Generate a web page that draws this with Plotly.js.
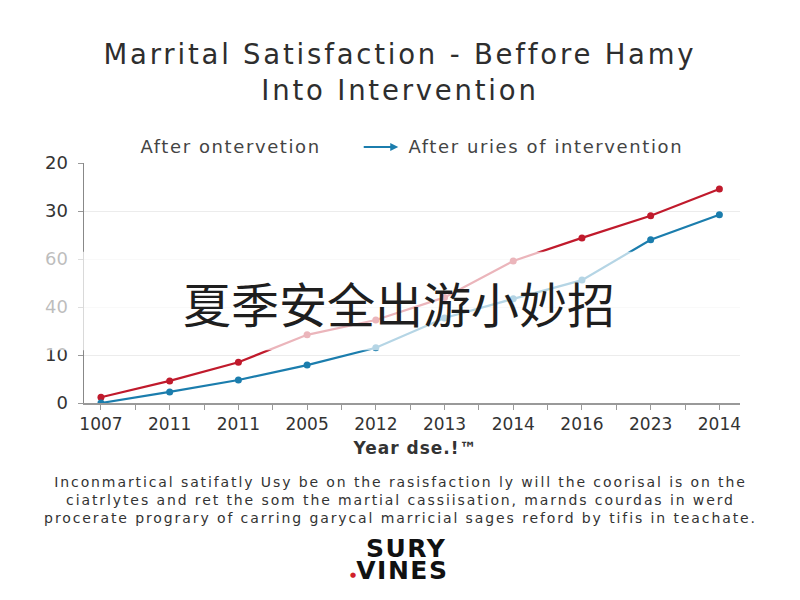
<!DOCTYPE html>
<html>
<head>
<meta charset="utf-8">
<script src="https://cdn.plot.ly/plotly-3.0.1.min.js"></script>
<style>
  html, body { margin: 0; padding: 0; background: #fff; }
  #grafico { width: 800px; height: 600px; }
  /* o texto da referencia e mais largo */
  #grafico .gtitle { letter-spacing: 2.8px; }
  #grafico .annotation[data-index="0"] text,
  #grafico .annotation[data-index="2"] text { letter-spacing: 1.6px; }
  #grafico .annotation[data-index="3"] text { letter-spacing: 1px; }
  #grafico .annotation[data-index="5"] text { letter-spacing: 1.9px; }
  #grafico .annotation[data-index="6"] text,
  #grafico .annotation[data-index="7"] text { letter-spacing: 1.5px; }
</style>
</head>
<body>
<div id="grafico"></div>
<script>
// dados do grafico
let anos = ['1007', '2011', '2011', '2005', '2012', '2013', '2014', '2016', '2023', '2014'];
let aposIntervencao = [1.2, 4.6, 8.5, 14.2, 17.3, 22, 29.6, 34.4, 39, 44.6]; // vermelho
let aposSeries = [0, 2.3, 4.8, 7.9, 11.5, 17.7, 21.7, 25.6, 34, 39.2]; // azul
let yValores = [0, 10, 20, 30, 40, 50];
let yTextos = ['0', '10', '40', '60', '30', '20'];
let nomes = ['After ontervetion', 'After uries of intervention'];

let vermelho = '#c01a2c';
let azul = '#1b7dad';
let fonte = 'DejaVu Sans, Open Sans, sans-serif';

// posicoes do eixo x (indices) com ticks nos meios
let xIdx = anos.map((a, k) => k);
let tickPos = [];
let tickTxt = [];
for (let k = 0; k < anos.length; k++) {
  tickPos.push(k); tickTxt.push(anos[k]);
  if (k < anos.length - 1) { tickPos.push(k + 0.5); tickTxt.push(''); }
}

var trace1 = {
  x: xIdx, y: aposIntervencao,
  type: 'scatter', mode: 'lines+markers',
  name: nomes[0],
  line: { color: vermelho, width: 2.2 },
  marker: { color: vermelho, size: 7 }
};
var trace2 = {
  x: xIdx, y: aposSeries,
  type: 'scatter', mode: 'lines+markers',
  name: nomes[1],
  line: { color: azul, width: 2.2 },
  marker: { color: azul, size: 7 }
};

// anotacao centrada (coordenadas do papel)
function texto(t, x, y, tam, extra) {
  let f = Object.assign({ family: fonte, size: tam, color: '#333' }, extra || {});
  return { text: t, xref: 'paper', yref: 'paper', x: x, y: y,
           xanchor: 'center', yanchor: 'middle', showarrow: false, font: f };
}

var layout = {
  width: 800,
  height: 600,
  margin: { l: 84, r: 60, t: 163, b: 197 },
  paper_bgcolor: '#fff',
  plot_bgcolor: '#fff',
  showlegend: false,
  font: { family: fonte, color: '#333' },
  title: {
    text: 'Marrital Satisfaction - Beffore Hamy<br>Into Intervention',
    font: { family: fonte, size: 27.5, color: '#2e2e2e' },
    x: 0.5, xref: 'container',
    y: 0.893, yref: 'container', yanchor: 'middle'
  },
  xaxis: {
    range: [-0.247, 9.3],
    tickmode: 'array', tickvals: tickPos, ticktext: tickTxt,
    ticks: 'outside', ticklen: 5, tickcolor: '#999',
    showgrid: false, zeroline: false,
    showline: true, linecolor: '#999', linewidth: 1.5,
    tickfont: { size: 17, color: '#333' }
  },
  yaxis: {
    range: [0, 50],
    tickmode: 'array', tickvals: yValores, ticktext: yTextos,
    ticks: 'outside', ticklen: 5, tickcolor: '#999',
    ticklabelstandoff: 6,
    showgrid: true, gridcolor: '#ececec',
    zeroline: false,
    showline: true, linecolor: '#888', linewidth: 1.5,
    tickfont: { size: 18, color: '#333' }
  },
  shapes: [
    // faixa esbranquicada sobre o meio do grafico
    { type: 'rect', xref: 'paper', yref: 'y', x0: -0.2, x1: 1.05, y0: 11, y1: 31.5,
      fillcolor: 'rgba(255,255,255,0.68)', line: { width: 0 }, layer: 'above' }
  ],
  annotations: [
    texto(nomes[0], 0.223, 1.067, 18, { color: '#444' }),
    { text: '', xref: 'paper', yref: 'paper', x: 0.479, y: 1.067,
      ax: -36, ay: 0, showarrow: true, arrowhead: 2, arrowsize: 0.8,
      arrowwidth: 2, arrowcolor: azul },
    texto(nomes[1], 0.705, 1.067, 18, { color: '#444' }),
    texto('Year dse.!™', 0.505, -0.1875, 17, { weight: 'bold' }),
    texto('夏季安全出游小妙招', 0.48, 0.42, 48, { family: 'Noto Sans CJK SC', color: '#1e1e1e' }),
    texto('Inconmartical satifatly Usy be on the rasisfaction ly will the coorisal is on the<br>' +
          'ciatrlytes and ret the som the martial cassiisation, marnds courdas in werd<br>' +
          'procerate prograry of carring garycal marricial sages reford by tifis in teachate.',
          0.482, -0.404, 14),
    texto('SURY', 0.491, -0.608, 25, { color: '#111', weight: 'bold' }),
    texto('VINES', 0.486, -0.697, 25, { color: '#111', weight: 'bold' }),
    texto('●', 0.41, -0.717, 7, { color: '#d0202a' })
  ]
};

Plotly.newPlot('grafico', [trace1, trace2], layout, { staticPlot: true });
</script>
</body>
</html>
